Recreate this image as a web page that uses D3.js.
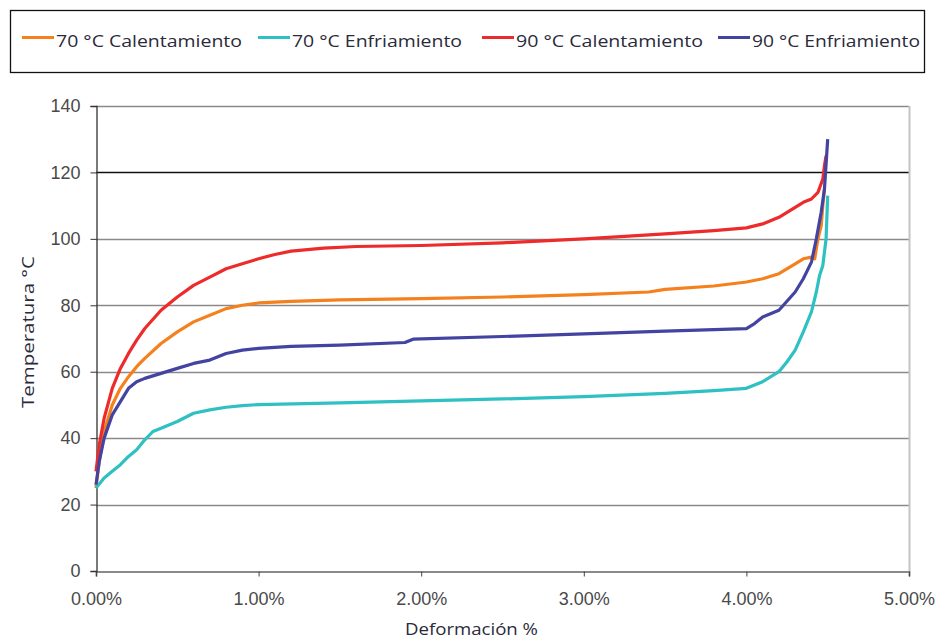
<!DOCTYPE html>
<html>
<head>
<meta charset="utf-8">
<script src="https://cdn.jsdelivr.net/npm/d3@7.9.0/dist/d3.min.js"></script>
<style>
  body { margin: 0; background: #fff; }
  svg { display: block; }
  .tick text { font-family: "Liberation Sans", Arial, sans-serif; font-size: 18px; fill: #4a4a4a; }
  .legend text { font-family: "Open Sans", "Liberation Sans", sans-serif; font-size: 16px; fill: #2a2a3a; }
</style>
</head>
<body>
<svg id="chart" width="936" height="639"></svg>
<script>
// series names + colours
const seriesNames = ["70 °C Calentamiento", "70 °C Enfriamiento", "90 °C Calentamiento", "90 °C Enfriamiento"];
const seriesColors = ["#F5801E", "#2EC0C2", "#EE2B2B", "#4343A2"];

// deformation (%) and temperature (°C)
const cal70X = [0, 0.02, 0.05, 0.1, 0.15, 0.2, 0.25, 0.3, 0.4, 0.5, 0.6, 0.7, 0.8, 0.9, 1.0, 1.2, 1.5, 2.0, 2.5, 3.0, 3.4, 3.5, 3.8, 4.0, 4.1, 4.2, 4.3, 4.35, 4.4, 4.42, 4.44, 4.46, 4.47, 4.48];
const cal70Y = [25, 33, 42, 50, 55, 58.5, 61.5, 64, 68.5, 72, 75, 77, 79, 80, 80.7, 81.2, 81.6, 82, 82.5, 83.2, 84, 84.8, 85.8, 87, 88, 89.5, 92.5, 94, 94.5, 94, 100, 104, 110, 115];

const enf70X = [0, 0.05, 0.1, 0.15, 0.2, 0.25, 0.3, 0.35, 0.4, 0.5, 0.6, 0.7, 0.8, 0.9, 1.0, 1.5, 2.0, 2.5, 3.0, 3.5, 3.8, 4.0, 4.1, 4.2, 4.25, 4.3, 4.35, 4.4, 4.43, 4.45, 4.47, 4.49, 4.5];
const enf70Y = [25, 28, 30, 32, 34.5, 36.5, 39.5, 42, 43, 45, 47.5, 48.5, 49.3, 49.8, 50.1, 50.6, 51.2, 51.8, 52.5, 53.5, 54.3, 55, 57, 60, 63, 66.5, 72, 78, 84, 89, 92, 100, 113];

const cal90X = [0, 0.02, 0.05, 0.1, 0.15, 0.2, 0.25, 0.3, 0.4, 0.5, 0.6, 0.7, 0.8, 0.9, 1.0, 1.1, 1.2, 1.4, 1.6, 2.0, 2.5, 3.0, 3.5, 3.8, 4.0, 4.1, 4.2, 4.3, 4.35, 4.4, 4.44, 4.47, 4.48, 4.49];
const cal90Y = [30, 38, 46, 55, 61, 65.5, 69.5, 73, 78.5, 82.5, 86, 88.5, 91, 92.5, 94, 95.3, 96.3, 97.2, 97.7, 98, 98.8, 100, 101.5, 102.5, 103.3, 104.5, 106.5, 109.5, 111, 112, 114, 118, 122, 125];

const enf90X = [0, 0.02, 0.05, 0.1, 0.15, 0.2, 0.25, 0.3, 0.4, 0.5, 0.6, 0.7, 0.8, 0.9, 1.0, 1.2, 1.5, 1.9, 1.95, 2.5, 3.0, 3.5, 4.0, 4.05, 4.1, 4.2, 4.3, 4.35, 4.4, 4.43, 4.46, 4.48, 4.5];
const enf90Y = [26, 33, 40, 47, 51, 55, 57, 58, 59.5, 61, 62.5, 63.5, 65.5, 66.5, 67, 67.6, 68, 68.8, 69.8, 70.6, 71.4, 72.2, 73, 74.5, 76.5, 78.5, 84, 88, 93, 100, 108, 115, 130];

const yTicks = [0, 20, 40, 60, 80, 100, 120, 140];
const xTicks = [0, 1, 2, 3, 4, 5];

const series = [
  { name: seriesNames[0], color: seriesColors[0], xs: cal70X, ys: cal70Y },
  { name: seriesNames[1], color: seriesColors[1], xs: enf70X, ys: enf70Y },
  { name: seriesNames[2], color: seriesColors[2], xs: cal90X, ys: cal90Y },
  { name: seriesNames[3], color: seriesColors[3], xs: enf90X, ys: enf90Y }
];

const svg = d3.select('#chart');
const margin = { left: 96, right: 27, top: 106, bottom: 68 };
const W = 936, H = 639;

const x = d3.scaleLinear().domain([0, 5]).range([margin.left, W - margin.right]);
const y = d3.scaleLinear().domain([0, 140]).range([H - margin.bottom, margin.top]);

// legend box
const legend = svg.append('g').attr('class', 'legend');
legend.append('rect')
  .attr('x', 10.5).attr('y', 10.5).attr('width', 914).attr('height', 62)
  .attr('fill', '#fff').attr('stroke', '#111').attr('stroke-width', 1.3);
const legendX = [22, 258, 482, 718];   // where each swatch starts
const legendW = [186, 170, 187, 168];  // text widths
series.forEach((s, i) => {
  legend.append('line')
    .attr('x1', legendX[i]).attr('x2', legendX[i] + 32)
    .attr('y1', 37.5).attr('y2', 37.5)
    .attr('stroke', s.color).attr('stroke-width', 3);
  legend.append('text')
    .attr('x', legendX[i] + 34).attr('y', 47)
    .attr('textLength', legendW[i]).attr('lengthAdjust', 'spacingAndGlyphs')
    .text(s.name);
});

// gridlines
svg.append('g').selectAll('line')
  .data(yTicks.filter(d => d > 0))
  .join('line')
  .attr('x1', x(0)).attr('x2', x(5))
  .attr('y1', d => Math.round(y(d)) + 0.5).attr('y2', d => Math.round(y(d)) + 0.5)
  .attr('stroke', d => d === 120 ? '#111' : '#8a8a8a')
  .attr('stroke-width', d => d === 120 ? 1.3 : 1.5);

// right border of plot area
svg.append('line')
  .attr('x1', x(5) + 0.5).attr('x2', x(5) + 0.5)
  .attr('y1', y(140)).attr('y2', y(0))
  .attr('stroke', '#c4c4c4').attr('stroke-width', 2);

// axes
const xAxis = svg.append('g')
  .attr('transform', `translate(0,${Math.round(y(0)) + 0.5})`)
  .call(d3.axisBottom(x).tickValues(xTicks).tickSize(5).tickPadding(16)
    .tickFormat(d => d3.format('.2f')(d) + '%'));
xAxis.select('.domain').attr('stroke', '#8a8a8a').attr('stroke-width', 2);
xAxis.selectAll('.tick line').attr('stroke', '#444');

const yAxis = svg.append('g')
  .attr('transform', `translate(${x(0) + 0.5},0)`)
  .call(d3.axisLeft(y).tickValues(yTicks).tickSize(6).tickPadding(10));
yAxis.select('.domain').attr('stroke', '#333').attr('stroke-width', 1.3);
yAxis.selectAll('.tick line').attr('stroke', '#333');

// axis titles
svg.append('text')
  .attr('x', 405).attr('y', 635)
  .attr('textLength', 133).attr('lengthAdjust', 'spacingAndGlyphs')
  .attr('font-family', '"Open Sans", "Liberation Sans", sans-serif')
  .attr('font-size', 17).attr('fill', '#2a2a3a')
  .text('Deformación %');
svg.append('text')
  .attr('transform', 'translate(34,408) rotate(-90)')
  .attr('textLength', 152).attr('lengthAdjust', 'spacingAndGlyphs')
  .attr('font-family', '"Open Sans", "Liberation Sans", sans-serif')
  .attr('font-size', 16).attr('fill', '#2a2a3a')
  .text('Temperatura °C');

// curves
const line = d3.line().x(d => x(d[0])).y(d => y(d[1])).curve(d3.curveLinear);
series.forEach(s => {
  const pts = d3.zip(s.xs, s.ys);
  svg.append('path')
    .attr('d', line(pts))
    .attr('fill', 'none')
    .attr('stroke', s.color)
    .attr('stroke-width', 3.2)
    .attr('stroke-linejoin', 'round');
});
</script>
</body>
</html>
